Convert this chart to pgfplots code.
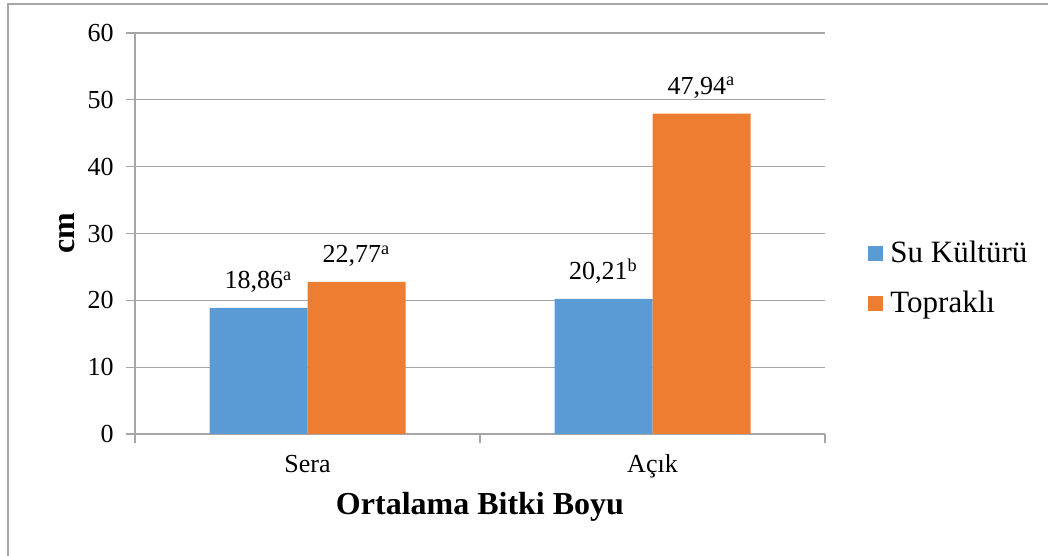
\documentclass[border=0pt]{standalone}
\usepackage{pgfplots}
\pgfplotsset{compat=1.18}
\usepackage{fontspec}
\setmainfont{Liberation Serif}
\definecolor{cblue}{HTML}{5B9BD5}
\definecolor{corange}{HTML}{ED7D31}
\definecolor{cgrid}{HTML}{A6A6A6}
\begin{document}
\begin{tikzpicture}
\path[use as bounding box] (0,0) rectangle (524pt,278pt);
\draw[cgrid, line width=0.6pt] (4pt,0) -- (4pt,276pt) -- (524pt,276pt);
\begin{axis}[
  at={(67.5pt,61pt)}, anchor=south west,
  scale only axis, width=345pt, height=200.5pt,
  xmin=-0.5, xmax=1.5, ymin=0, ymax=60,
  ybar=0pt, bar width=49pt,
  axis x line*=bottom, axis y line*=left,
  axis line style={-, draw=cgrid, line width=0.6pt},
  tick pos=left, tick align=outside, major tick length=4.5pt,
  tick style={draw=cgrid, line width=0.6pt},
  ymajorgrids, grid style={draw=cgrid, line width=0.6pt},
  ytick={0,10,...,60},
  xtick={-0.5,0.5,1.5}, xticklabels={},
  extra x ticks={0,1}, extra x tick labels={Sera,Açık},
  extra x tick style={major tick length=0pt, xticklabel style={anchor=base, inner sep=0pt, yshift=-19.5pt}},
  /pgf/number format/assume math mode=true,
  ticklabel style={font=\fontsize{13}{15}\selectfont},
  yticklabel style={anchor=east, inner sep=0pt, xshift=-6pt},
  xlabel={Ortalama Bitki Boyu},
  xlabel style={at={(axis description cs:0.5,-0.202)}, anchor=base, inner sep=0pt, font=\bfseries\fontsize{16}{19}\selectfont},
  ylabel={cm},
  ylabel style={at={(axis description cs:-0.0884,0.5)}, anchor=base, inner sep=0pt, font=\bfseries\fontsize{16}{19}\selectfont},
  every node near coord/.append style={anchor=base, inner sep=0pt, yshift=9.5pt, font=\fontsize{13}{15}\selectfont, text=black},
  legend style={draw=none, fill=none, at={(1.0623,0.384)}, anchor=west, inner sep=0pt,
    font=\fontsize{15.5}{18}\selectfont, row sep=10.5pt,
    nodes={inner sep=0pt, text height=11pt, text depth=3.5pt}},
  legend cell align=left,
  /tikz/every odd column/.append style={column sep=3.5pt},
]
\addplot[fill=cblue, draw=none, nodes near coords, point meta=explicit symbolic,
  legend image code/.code={\fill[cblue] (0pt,-3.15pt) rectangle (7.5pt,4.35pt);}]
  coordinates {(0,18.86) [18,86\textsuperscript{a}] (1,20.21) [20,21\textsuperscript{b}]};
\addplot[fill=corange, draw=none, nodes near coords, point meta=explicit symbolic,
  legend image code/.code={\fill[corange] (0pt,-3.15pt) rectangle (7.5pt,4.35pt);}]
  coordinates {(0,22.77) [22,77\textsuperscript{a}] (1,47.94) [47,94\textsuperscript{a}]};
\legend{Su Kültürü, Topraklı}
\end{axis}
\end{tikzpicture}
\end{document}
